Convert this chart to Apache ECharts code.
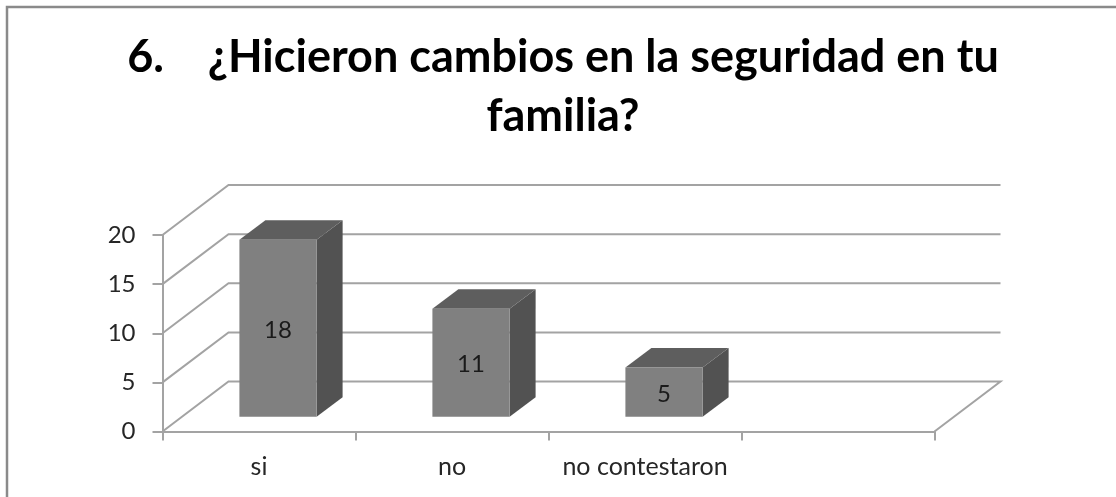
<!DOCTYPE html>
<html><head><meta charset="utf-8">
<style>html,body{margin:0;padding:0;background:#fff}#c{width:1116px;height:497px}</style>
<script src="https://cdn.jsdelivr.net/npm/echarts@6/dist/echarts.min.js"></script>
</head><body><div id="c"></div>
<script>
const categories = ['si', 'no', 'no contestaron', ''];
const values = [18, 11, 5];
const yTicks = [0, 5, 10, 15, 20];
const titleText = '6.    ¿Hicieron cambios en la seguridad en tu\nfamilia?';

const FONT = 'Lato, "Noto Sans", sans-serif';
const GRID_COL = '#a3a3a3';
const DEPTH = {dx: 66, dy: 50};
const BAR_SHIFT = {dx: 19, dy: 14.8};
const BAR_DEPTH = {dx: 26, dy: 19.5};

function renderWall(params, api) {
  const v = api.value(0);
  const base = api.coord([0, v]);
  const band = api.size([1, 0])[0];
  const left = base[0] - band / 2;
  const right = left + band * categories.length;
  const y = base[1];
  const pts = [[left, y], [left + DEPTH.dx, y - DEPTH.dy], [right + DEPTH.dx, y - DEPTH.dy]];
  if (v === 0) pts.push([right, y]);
  return {type: 'polyline', shape: {points: pts}, silent: true,
    style: {fill: null, stroke: GRID_COL, lineWidth: 2}};
}

function renderBar(params, api) {
  const i = api.value(0), v = api.value(1);
  const top = api.coord([i, v]);
  const bottom = api.coord([i, 0]);
  const w = api.size([1, 0])[0] * 0.4;
  const x0 = top[0] + BAR_SHIFT.dx - w / 2, x1 = x0 + w;
  const yt = top[1] - BAR_SHIFT.dy, yb = bottom[1] - BAR_SHIFT.dy;
  const d = BAR_DEPTH;
  return {type: 'group', children: [
    {type: 'polygon', shape: {points: [[x1, yt], [x1 + d.dx, yt - d.dy], [x1 + d.dx, yb - d.dy], [x1, yb]]}, style: {fill: '#525252'}},
    {type: 'polygon', shape: {points: [[x0, yt], [x0 + d.dx, yt - d.dy], [x1 + d.dx, yt - d.dy], [x1, yt]]}, style: {fill: '#5e5e5e'}},
    {type: 'rect', shape: {x: x0, y: yt, width: w, height: yb - yt}, style: {fill: '#808080'}},
    {type: 'text', style: {x: (x0 + x1) / 2, y: (yt + yb) / 2 + 2, text: String(v), align: 'center', verticalAlign: 'middle',
      font: '24px ' + FONT, fill: '#1a1a1a'}}
  ]};
}

const chart = echarts.init(document.getElementById('c'), null, {renderer: 'canvas'});
chart.setOption({
  animation: false,
  backgroundColor: '#ffffff',
  title: {text: titleText, left: 558, top: 23, textAlign: 'center',
    textStyle: {fontFamily: FONT, fontWeight: 700, fontSize: 45, lineHeight: 59, color: '#000'}},
  graphic: [{type: 'polyline', shape: {points: [[7, 497], [7, 7], [1116, 7]]}, silent: true,
    style: {fill: null, stroke: '#8a8a8a', lineWidth: 2.5}}],
  grid: {left: 162.5, right: 181.5, top: 235, bottom: 65.5},
  xAxis: {type: 'category', data: categories,
    axisLine: {lineStyle: {color: GRID_COL, width: 2}},
    axisTick: {show: true, length: 9, alignWithLabel: false, interval: 0, lineStyle: {color: GRID_COL, width: 2}},
    axisLabel: {interval: 0, margin: 23, fontFamily: FONT, fontSize: 25, color: '#262626'}},
  yAxis: {type: 'value', min: 0, max: 20, interval: 5,
    splitLine: {show: false},
    axisLine: {show: true, lineStyle: {color: GRID_COL, width: 2}},
    axisTick: {show: true, length: 10, lineStyle: {color: GRID_COL, width: 2}},
    axisLabel: {margin: 27, padding: [6, 0, 0, 0], fontFamily: FONT, fontSize: 24, color: '#262626'}},
  series: [
    {type: 'custom', name: 'walls', z: 1, silent: true, renderItem: renderWall, clip: false,
      data: yTicks.map(v => [v]), encode: {y: 0}},
    {type: 'custom', name: 'bars', z: 3, silent: true, renderItem: renderBar, clip: false,
      data: values.map((v, i) => [i, v]), encode: {x: 0, y: 1}}
  ]
});
</script></body></html>
